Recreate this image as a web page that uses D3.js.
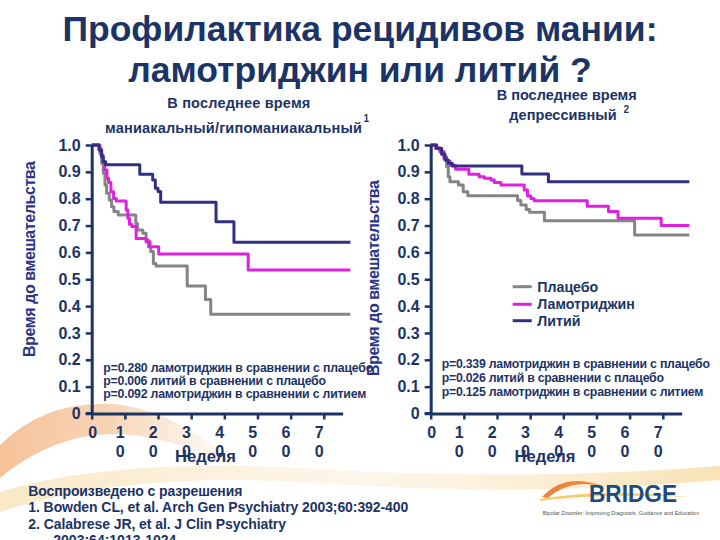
<!DOCTYPE html>
<html><head><meta charset="utf-8">
<script src="https://cdn.jsdelivr.net/npm/d3@7"></script>
<style>
html,body{margin:0;padding:0;background:#fff;}
svg{display:block;font-family:Arial,"Liberation Sans",sans-serif;}
</style>
</head><body>
<svg id="chart" width="720" height="540"></svg>
<script>
// ---------------- DATA ----------------
const weekTicks = [0, 10, 20, 30, 40, 50, 60, 70];
const survTicks = [0, 0.1, 0.2, 0.3, 0.4, 0.5, 0.6, 0.7, 0.8, 0.9, 1.0];
const seriesNames = ["Плацебо", "Ламотриджин", "Литий"];

// Panel 1: recently manic/hypomanic  [week, proportion without intervention]
const maniaPlacebo = [[0,1],[2.5,0.969],[3.0,0.932],[3.5,0.895],[4.0,0.851],[4.5,0.82],[5.3,0.795],[6.0,0.77],[6.7,0.752],[8.0,0.739],[13.3,0.708],[13.8,0.683],[15.4,0.671],[16.4,0.646],[17.1,0.621],[17.8,0.603],[18.6,0.559],[19.4,0.549],[28.8,0.475],[34.3,0.425],[35.9,0.37],[78,0.37]];
const maniaLamotrigine = [[0,1],[2.3,0.988],[2.8,0.963],[3.4,0.938],[3.9,0.907],[4.6,0.876],[5.1,0.86],[5.8,0.826],[6.6,0.801],[7.4,0.791],[10.4,0.758],[10.9,0.727],[11.4,0.705],[12.1,0.696],[13.4,0.652],[16.4,0.64],[17.6,0.621],[20.2,0.594],[47.2,0.534],[78,0.534]];
const maniaLithium = [[0,1],[2.2,0.981],[3.0,0.956],[3.5,0.938],[4.2,0.926],[14.5,0.891],[18.4,0.87],[19.2,0.839],[20.0,0.827],[20.8,0.787],[37.5,0.714],[42.9,0.638],[78,0.638]];

// Panel 2: recently depressed
const depPlacebo = [[0,1],[1.5,0.988],[2.8,0.975],[4.0,0.95],[4.8,0.919],[5.3,0.882],[5.8,0.863],[8.4,0.851],[9.8,0.826],[11.2,0.811],[26.2,0.793],[27.2,0.777],[28.8,0.76],[29.8,0.75],[34.3,0.718],[61.5,0.665],[78,0.665]];
const depLamotrigine = [[0,1],[1.5,0.988],[2.8,0.975],[4.0,0.955],[4.8,0.94],[5.8,0.925],[7.5,0.91],[11.5,0.891],[14.6,0.882],[16.2,0.876],[18.2,0.87],[19.2,0.86],[21.2,0.851],[28.2,0.832],[29.2,0.81],[30.2,0.801],[31.2,0.792],[47.2,0.772],[53.6,0.752],[56.5,0.727],[69.5,0.70],[78,0.70]];
const depLithium = [[0,1],[1.8,0.988],[3.3,0.966],[4.3,0.944],[5.3,0.932],[6.5,0.922],[27.5,0.892],[35.5,0.863],[78,0.863]];

const maniaPValues = ["p=0.280 ламотриджин в сравнении с плацебо","p=0.006 литий в сравнении с плацебо","p=0.092 ламотриджин в сравнении с литием"];
const depPValues = ["p=0.339 ламотриджин в сравнении с плацебо","p=0.026 литий в сравнении с плацебо","p=0.125 ламотриджин в сравнении с литием"];

const titleLines = ["Профилактика рецидивов мании:", "ламотриджин или литий ?"];
const yTitle = "Время до вмешательства";
const xTitle = "Неделя";
const footerLines = ["Воспроизведено с разрешения","1. Bowden CL, et al. Arch Gen Psychiatry 2003;60:392-400","2. Calabrese JR, et al. J Clin Psychiatry","2003;64:1013-1024"];

// ---------------- STYLE ----------------
const navy = "#1B3465";
const seriesColors = ["#858585", "#E01FE0", "#302F82"];

const svg = d3.select("#chart");
svg.append("rect").attr("width",720).attr("height",540).attr("fill","#fff");

// background swooshes
const defs = svg.append("defs");
const g1 = defs.append("linearGradient").attr("id","peach").attr("x1","0").attr("y1","0").attr("x2","1").attr("y2","0");
g1.append("stop").attr("offset","0").attr("stop-color","#F2A86E").attr("stop-opacity",0.7);
g1.append("stop").attr("offset","0.45").attr("stop-color","#F4BE90").attr("stop-opacity",0.65);
g1.append("stop").attr("offset","1").attr("stop-color","#F8DCC0").attr("stop-opacity",0.05);
const g2 = defs.append("linearGradient").attr("id","sand").attr("x1","0").attr("y1","0").attr("x2","1").attr("y2","0");
g2.append("stop").attr("offset","0").attr("stop-color","#F6D9A0").attr("stop-opacity",0.6);
g2.append("stop").attr("offset","0.5").attr("stop-color","#F8E6C4").attr("stop-opacity",0.35);
g2.append("stop").attr("offset","1").attr("stop-color","#F5D48E").attr("stop-opacity",0.65);
svg.append("path").attr("d","M0,445 Q45,400 115,404 Q185,412 250,478 Q185,438 120,434 Q55,432 0,478 Z").attr("fill","url(#peach)");
svg.append("path").attr("d","M0,492 Q110,458 300,468 Q520,482 720,466 L720,480 Q520,498 300,482 Q120,472 0,512 Z").attr("fill","url(#sand)");

// title
svg.selectAll("text.title").data(titleLines).join("text")
  .attr("class","title").attr("x",360).attr("y",(d,i)=>i===0?41:82)
  .attr("text-anchor","middle").attr("font-size",35.5).attr("font-weight","bold").attr("fill",navy)
  .text(d=>d);

// panel subtitles
function subtitle(x, y, txt, w, sup, sx, sy) {
  svg.append("text").attr("x",x).attr("y",y).attr("font-size",14.5).attr("font-weight","bold").attr("fill",navy)
    .attr("textLength",w).attr("lengthAdjust","spacing").text(txt);
  if (sup) svg.append("text").attr("x",sx).attr("y",sy).attr("font-size",10).attr("font-weight","bold").attr("fill",navy).text(sup);
}
subtitle(167.3,107.5,"В последнее время",143);
subtitle(105,132.5,"маниакальный/гипоманиакальный",257,"1",363.5,122);
subtitle(496.7,100,"В последнее время",140);
subtitle(509.3,120,"депрессивный",107.4,"2",623.5,113);

// ---------------- PANELS ----------------
function panel(ox, series, pvals, pvx, pvy, pvw, yTitleX, yTitleY, xTitleX, legend) {
  const x = d3.scaleLinear().domain([0,75.7]).range([ox, ox+251]);
  const y = d3.scaleLinear().domain([0,1]).range([413.5,145]);
  const g = svg.append("g");

  // lines
  const line = d3.line().x(d=>x(d[0])).y(d=>y(d[1])).curve(d3.curveStepAfter);
  series.forEach((s,i)=>{
    g.append("path").attr("d",line(s)).attr("fill","none").attr("stroke",seriesColors[i])
      .attr("stroke-width",3).attr("stroke-linejoin","round");
  });

  // y axis
  const ya = g.append("g").attr("transform",`translate(${ox},0)`)
    .call(d3.axisLeft(y).tickValues(survTicks).tickFormat(d=>d===0?"0":d.toFixed(1)).tickSize(6).tickSizeOuter(0).tickPadding(5));
  ya.select(".domain").attr("stroke",navy).attr("stroke-width",3);
  ya.selectAll(".tick line").attr("stroke",navy).attr("stroke-width",2.5);
  ya.selectAll(".tick text").attr("fill",navy).attr("font-size",16).attr("font-weight","bold").attr("font-family","Arial, 'Liberation Sans', sans-serif");

  // x axis
  const xa = g.append("g").attr("transform","translate(0,413.5)")
    .call(d3.axisBottom(x).tickValues(weekTicks).tickFormat("").tickSize(6).tickSizeOuter(0));
  xa.select(".domain").attr("stroke",navy).attr("stroke-width",3);
  xa.selectAll(".tick line").attr("stroke",navy).attr("stroke-width",2.5);
  g.append("line").attr("x1",ox-6).attr("x2",ox).attr("y1",413.5).attr("y2",413.5).attr("stroke",navy).attr("stroke-width",3);

  // wrapped tick labels ("1" above "0")
  weekTicks.forEach(t=>{
    const s = String(t);
    const tx = g.append("text").attr("font-size",16).attr("font-weight","bold").attr("fill",navy).attr("text-anchor","middle");
    if (s.length === 1) {
      tx.attr("x",x(t)+1).attr("y",438).text(s);
    } else {
      tx.append("tspan").attr("x",x(t)-4.7).attr("y",438).text(s[0]);
      tx.append("tspan").attr("x",x(t)-4.7).attr("y",456.5).text(s[1]);
    }
  });

  // axis titles
  g.append("text").attr("x",xTitleX).attr("y",462).attr("text-anchor","middle")
    .attr("font-size",16.5).attr("font-weight","bold").attr("fill",navy).text(xTitle);
  g.append("text").attr("transform",`translate(${yTitleX},${yTitleY}) rotate(-90)`).attr("text-anchor","middle")
    .attr("font-size",16).attr("font-weight","bold").attr("fill","#2A3585")
    .attr("textLength",196).attr("lengthAdjust","spacing").text(yTitle);

  // p-values
  pvals.forEach((p,i)=>{
    g.append("text").attr("x",pvx).attr("y",pvy[i]).attr("font-size",12.3).attr("font-weight","bold").attr("fill",navy)
      .attr("textLength",pvw[i]).attr("lengthAdjust","spacing").text(p);
  });

  if (legend) {
    const rows = [286.7, 304.3, 320.7];
    seriesNames.forEach((n,i)=>{
      g.append("line").attr("x1",512.7).attr("x2",531.7).attr("y1",rows[i]).attr("y2",rows[i])
        .attr("stroke",seriesColors[i]).attr("stroke-width",3);
      g.append("text").attr("x",537.3).attr("y",rows[i]+5).attr("font-size",14.2).attr("font-weight","bold").attr("fill",navy).text(n);
    });
  }
}

panel(91.7, [maniaPlacebo, maniaLamotrigine, maniaLithium], maniaPValues, 103.3, [371.5,384.5,397.5], [270,222.7,263], 34.5, 259, 205.5, false);
panel(430.7, [depPlacebo, depLamotrigine, depLithium], depPValues, 441.7, [367.5,381.9,395.9], [268.3,222.3,261.6], 379, 278, 545, true);

// ---------------- FOOTER ----------------
const fx = [28.3, 28.3, 28.3, 53.3];
const fy = [496, 511.7, 529, 544.5];
const fw = [214, 380, 257.7, null];
footerLines.forEach((f,i)=>{
  const t = svg.append("text").attr("x",fx[i]).attr("y",fy[i]).attr("font-size",14).attr("font-weight","bold").attr("fill",navy).text(f);
  if (fw[i]) t.attr("textLength",fw[i]).attr("lengthAdjust","spacing");
});

// BRIDGE logo
svg.append("path").attr("d","M542,497 Q565,472 602,486 Q570,479 548,498 Z").attr("fill","#E8873C");
svg.append("path").attr("d","M540,499 Q600,488 690,497 Q600,493 540,501 Z").attr("fill","#F2C14E").attr("opacity",0.8);
svg.append("text").attr("x",589).attr("y",501.5).attr("font-size",23).attr("font-weight","bold").attr("fill","#1F4A7C")
  .attr("textLength",88).attr("lengthAdjust","spacingAndGlyphs").text("BRIDGE");
svg.append("text").attr("x",542.7).attr("y",514.5).attr("font-size",5.4).attr("fill","#555")
  .attr("textLength",156.6).attr("lengthAdjust","spacingAndGlyphs").text("Bipolar Disorder: Improving Diagnosis, Guidance and Education");
</script>
</body></html>
